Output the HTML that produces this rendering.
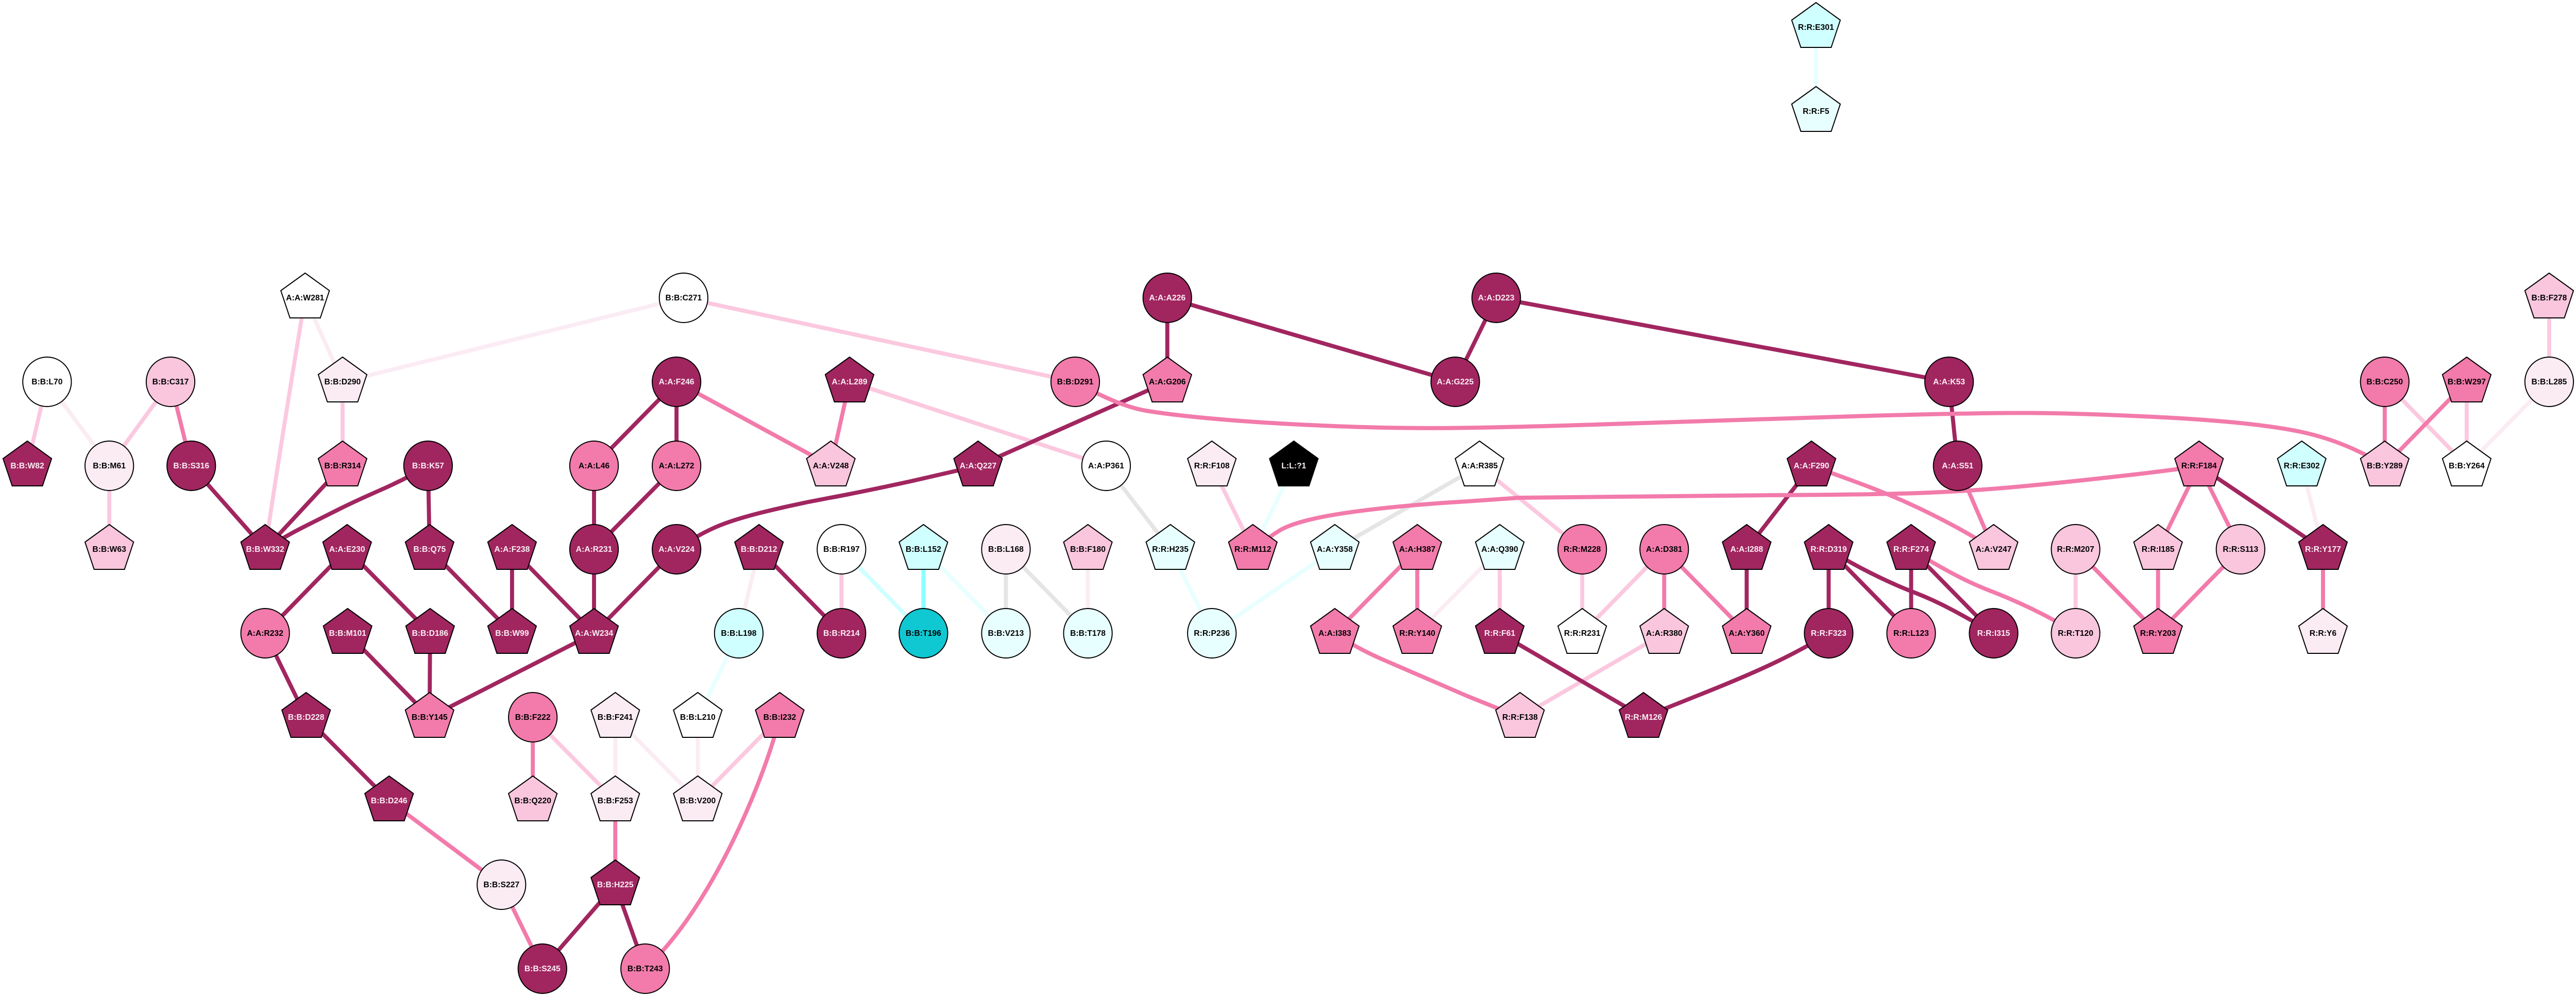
<!DOCTYPE html>
<html><head><meta charset="utf-8"><title>Residue network</title>
<style>
html,body{margin:0;padding:0;background:#fff;width:100%;height:100%;overflow:hidden}
svg{display:block;width:100vw;height:100vh}
text{font-family:"Liberation Sans",Arial,sans-serif;font-weight:bold;font-size:16px;text-anchor:middle;fill:#000}
text.w{fill:#fbeef4}
.e{fill:none;stroke-width:8;stroke-linejoin:round}
.n circle,.n use{stroke:#000;stroke-width:2}
.D{fill:#a12660}.P{fill:#f27bab}.L{fill:#f9c6dd}.V{fill:#fbecf4}.W{fill:#fff}.C{fill:#d0ffff}.U{fill:#e8ffff}.T{fill:#10c8d2}.K{fill:#000}
.sD{stroke:#a12660}.sP{stroke:#f27bab}.sL{stroke:#fbc9df}.sV{stroke:#fbecf4}.sU{stroke:#e8ffff}.sC{stroke:#d0ffff}.sA{stroke:#8cffff}.sG{stroke:#e5e5e5}
</style></head><body>
<svg xmlns="http://www.w3.org/2000/svg" viewBox="0 0 5091 1933" preserveAspectRatio="none">
<defs><polygon id="p" points="0,-48 48,-14 30,39 -30,39 -48,-14"/></defs>
<rect width="5091" height="1933" fill="#fff"/>

<!-- very light / grey / cyan edges -->
<g class="e sU">
<path d="M3589 53V216"/><path d="M1460 1229L1379 1392"/><path d="M1825 1066L1988 1229"/><path d="M2313 1066L2395 1229"/><path d="M2395 1229L2638 1066"/><path d="M2557 904L2476 1066"/>
</g>
<g class="e sC"><path d="M1663 1066L1825 1229"/></g>
<g class="e sA"><path d="M1825 1066V1229"/></g>
<g class="e sG">
<path d="M1988 1066V1229"/><path d="M1988 1066L2150 1229"/><path d="M2186 904L2313 1066"/><path d="M2638 1066L2924 904"/>
</g>
<g class="e sV">
<path d="M93 741L216 904"/><path d="M603 578L677 741"/><path d="M677 741L1351 578"/><path d="M1216 1392V1554"/><path d="M1216 1392L1379 1554"/><path d="M1379 1392V1554"/><path d="M1500 1066L1460 1229"/><path d="M2150 1066V1229"/><path d="M2964 1066L2801 1229"/><path d="M4549 904L4591 1066"/><path d="M5038 741L4875 904"/>
</g>

<!-- light pink edges -->
<g class="e sL">
<path d="M93 741L54 904"/><path d="M337 741L216 904"/><path d="M216 904V1066"/>
<path d="M603 578Q559 835 524 1066"/><path d="M677 741V904"/><path d="M1351 578L2125 741"/>
<path d="M1053 1392L1216 1554"/><path d="M1541 1392L1379 1554"/><path d="M1679 741L2186 904"/><path d="M1663 1066V1229"/>
<path d="M2924 904L3127 1066"/><path d="M2395 904L2476 1066"/><path d="M2964 1066V1229"/><path d="M3127 1066V1229"/><path d="M3289 1066L3127 1229"/>
<path d="M3289 1229L3004 1392"/><path d="M4102 1066V1229"/>
<path d="M4713 741L4875 904"/><path d="M4875 741V904"/><path d="M5038 578V741"/>
</g>

<!-- dark edges -->
<g class="e sD">
<path d="M378 904L524 1066"/><path d="M677 904L524 1066"/>
<path d="M846 904Q803 929 752 951Q701 973 669.5 988.5Q638 1004 599.5 1023Q561 1042 524 1066"/>
<path d="M846 904L849 1066"/><path d="M686 1066L524 1229"/><path d="M686 1066L850 1229"/><path d="M849 1066L1012 1229"/><path d="M1012 1066V1229"/><path d="M1012 1066L1174 1229"/><path d="M1174 1066V1229"/><path d="M1337 1066L1174 1229"/>
<path d="M524 1229L605 1392"/><path d="M687 1229L849 1392"/><path d="M850 1229L849 1392"/><path d="M1174 1229L849 1392"/><path d="M605 1392L769 1554"/>
<path d="M1216 1717L1072 1880"/><path d="M1216 1717L1275 1880"/>
<path d="M1337 741L1174 904"/><path d="M1337 741V904"/><path d="M1174 904V1066"/><path d="M1337 904L1174 1066"/>
<path d="M1933 904L1800 934Q1702 955 1638 966.5Q1574 978 1510 993.5Q1446 1009 1411 1024.5Q1376 1040 1337 1066"/>
<path d="M2307 741L1933 904"/><path d="M2307 578V741"/><path d="M2307 578L2876 741"/><path d="M2957 578L2876 741"/><path d="M2957 578L3852 741"/><path d="M3852 741L3869 904"/>
<path d="M1500 1066L1663 1229"/>
<path d="M3452 1066V1229"/><path d="M3580 904L3452 1066"/><path d="M2964 1229L3248 1392"/>
<path d="M3614 1229Q3572 1255 3518 1281Q3464 1307 3379 1340.5L3248 1392"/>
<path d="M3614 1066V1229"/><path d="M3614 1066L3777 1229"/>
<path d="M3614 1066Q3652 1090 3698 1112.5Q3744 1135 3782.5 1149.5Q3821 1164 3859 1184Q3897 1204 3940 1229"/>
<path d="M3777 1066V1229"/><path d="M3777 1066L3940 1229"/>
<path d="M4346 904L4591 1066"/>
</g>

<!-- pink edges -->
<g class="e sP">
<path d="M337 741L378 904"/><path d="M1337 741L1642 904"/><path d="M1679 741L1642 904"/>
<path d="M769 1554L991 1717"/><path d="M991 1717L1072 1880"/><path d="M1053 1392V1554"/><path d="M1216 1554V1717"/>
<path d="M1541 1392C1515 1500 1410 1759 1275 1880"/>
<path d="M2125 741Q2210 788 2264.5 797Q2319 806 2414.5 814Q2510 822 2637.5 827Q2765 832 2882.5 830.5Q3000 829 3200 822.5Q3400 816 3629.5 809Q3859 802 3979.5 801.5Q4100 801 4275.5 810Q4451 819 4542 837Q4633 855 4713 904"/>
<path d="M2476 1066Q2510 1041 2529 1029.5Q2548 1018 2593 1007.5Q2638 997 2717.5 988Q2797 979 2900 973L3003 966Q3283 963 3500 961Q3719 960 3814.5 956Q3910 952 4005.5 943Q4101 934 4203.5 922.5Q4306 911 4346 904"/>
<path d="M3580 904Q3620 918 3672.5 937Q3725 956 3770 976Q3815 996 3859.5 1019.5Q3904 1043 3940 1066"/>
<path d="M3777 1066Q3815 1090 3856 1111.5Q3897 1133 3935.5 1147.5Q3974 1162 4018.5 1183Q4063 1204 4102 1229"/>
<path d="M2638 1229Q2676 1255 2727 1277.5L2900 1351L3004 1392"/>
<path d="M2801 1066L2638 1229"/><path d="M2801 1066V1229"/><path d="M3289 1066V1229"/><path d="M3289 1066L3452 1229"/>
<path d="M3869 904L3940 1066"/>
<path d="M4102 1066L4265 1229"/><path d="M4265 1066V1229"/><path d="M4428 1066L4265 1229"/><path d="M4346 904L4265 1066"/><path d="M4346 904L4428 1066"/><path d="M4591 1066V1229"/>
<path d="M4713 741V904"/><path d="M4875 741L4713 904"/>
</g>

<!-- circle nodes -->
<g class="n">
<circle class="W" cx="93" cy="741" r="48"/><text x="93" y="746">B:B:L70</text>
<circle class="L" cx="337" cy="741" r="48"/><text x="337" y="746">B:B:C317</text>
<circle class="V" cx="216" cy="904" r="48"/><text x="216" y="909">B:B:M61</text>
<circle class="D" cx="378" cy="904" r="48"/><text class="w" x="378" y="909">B:B:S316</text>
<circle class="D" cx="846" cy="904" r="48"/><text class="w" x="846" y="909">B:B:K57</text>
<circle class="P" cx="1174" cy="904" r="48"/><text x="1174" y="909">A:A:L46</text>
<circle class="P" cx="1337" cy="904" r="48"/><text x="1337" y="909">A:A:L272</text>
<circle class="D" cx="1337" cy="741" r="48"/><text class="w" x="1337" y="746">A:A:F246</text>
<circle class="W" cx="1351" cy="578" r="48"/><text x="1351" y="583">B:B:C271</text>
<circle class="D" cx="1174" cy="1066" r="48"/><text class="w" x="1174" y="1071">A:A:R231</text>
<circle class="D" cx="1337" cy="1066" r="48"/><text class="w" x="1337" y="1071">A:A:V224</text>
<circle class="W" cx="1663" cy="1066" r="48"/><text x="1663" y="1071">B:B:R197</text>
<circle class="V" cx="1988" cy="1066" r="48"/><text x="1988" y="1071">B:B:L168</text>
<circle class="T" cx="1825" cy="1229" r="48"/><text x="1825" y="1234">B:B:T196</text>
<circle class="U" cx="1988" cy="1229" r="48"/><text x="1988" y="1234">B:B:V213</text>
<circle class="C" cx="1460" cy="1229" r="48"/><text x="1460" y="1234">B:B:L198</text>
<circle class="D" cx="1663" cy="1229" r="48"/><text class="w" x="1663" y="1234">B:B:R214</text>
<circle class="P" cx="524" cy="1229" r="48"/><text x="524" y="1234">A:A:R232</text>
<circle class="P" cx="1053" cy="1392" r="48"/><text x="1053" y="1397">B:B:F222</text>
<circle class="V" cx="991" cy="1717" r="48"/><text x="991" y="1722">B:B:S227</text>
<circle class="D" cx="1072" cy="1880" r="48"/><text class="w" x="1072" y="1885">B:B:S245</text>
<circle class="P" cx="1275" cy="1880" r="48"/><text x="1275" y="1885">B:B:T243</text>
<circle class="P" cx="2125" cy="741" r="48"/><text x="2125" y="746">B:B:D291</text>
<circle class="D" cx="2307" cy="578" r="48"/><text class="w" x="2307" y="583">A:A:A226</text>
<circle class="D" cx="2957" cy="578" r="48"/><text class="w" x="2957" y="583">A:A:D223</text>
<circle class="D" cx="2876" cy="741" r="48"/><text class="w" x="2876" y="746">A:A:G225</text>
<circle class="D" cx="3852" cy="741" r="48"/><text class="w" x="3852" y="746">A:A:K53</text>
<circle class="D" cx="3869" cy="904" r="48"/><text class="w" x="3869" y="909">A:A:S51</text>
<circle class="W" cx="2186" cy="904" r="48"/><text x="2186" y="909">A:A:P361</text>
<circle class="U" cx="2150" cy="1229" r="48"/><text x="2150" y="1234">B:B:T178</text>
<circle class="U" cx="2395" cy="1229" r="48"/><text x="2395" y="1234">R:R:P236</text>
<circle class="P" cx="3127" cy="1066" r="48"/><text x="3127" y="1071">R:R:M228</text>
<circle class="P" cx="3289" cy="1066" r="48"/><text x="3289" y="1071">A:A:D381</text>
<circle class="D" cx="3614" cy="1229" r="48"/><text class="w" x="3614" y="1234">R:R:F323</text>
<circle class="P" cx="3777" cy="1229" r="48"/><text x="3777" y="1234">R:R:L123</text>
<circle class="D" cx="3940" cy="1229" r="48"/><text class="w" x="3940" y="1234">R:R:I315</text>
<circle class="L" cx="4102" cy="1229" r="48"/><text x="4102" y="1234">R:R:T120</text>
<circle class="L" cx="4102" cy="1066" r="48"/><text x="4102" y="1071">R:R:M207</text>
<circle class="L" cx="4428" cy="1066" r="48"/><text x="4428" y="1071">R:R:S113</text>
<circle class="P" cx="4713" cy="741" r="48"/><text x="4713" y="746">B:B:C250</text>
<circle class="V" cx="5038" cy="741" r="48"/><text x="5038" y="746">B:B:L285</text>
</g>

<!-- pentagon nodes -->
<g class="n">
<use href="#p" class="C" x="3589" y="53"/><text x="3589" y="58">R:R:E301</text>
<use href="#p" class="U" x="3589" y="216"/><text x="3589" y="221">R:R:F5</text>
<use href="#p" class="W" x="603" y="578"/><text x="603" y="583">A:A:W281</text>
<use href="#p" class="L" x="5038" y="578"/><text x="5038" y="583">B:B:F278</text>
<use href="#p" class="V" x="677" y="741"/><text x="677" y="746">B:B:D290</text>
<use href="#p" class="D" x="1679" y="741"/><text class="w" x="1679" y="746">A:A:L289</text>
<use href="#p" class="P" x="2307" y="741"/><text x="2307" y="746">A:A:G206</text>
<use href="#p" class="P" x="4875" y="741"/><text x="4875" y="746">B:B:W297</text>
<use href="#p" class="D" x="54" y="904"/><text class="w" x="54" y="909">B:B:W82</text>
<use href="#p" class="P" x="677" y="904"/><text x="677" y="909">B:B:R314</text>
<use href="#p" class="L" x="1642" y="904"/><text x="1642" y="909">A:A:V248</text>
<use href="#p" class="D" x="1933" y="904"/><text class="w" x="1933" y="909">A:A:Q227</text>
<use href="#p" class="V" x="2395" y="904"/><text x="2395" y="909">R:R:F108</text>
<use href="#p" class="K" x="2557" y="904"/><text class="w" x="2557" y="909">L:L:?1</text>
<use href="#p" class="W" x="2924" y="904"/><text x="2924" y="909">A:A:R385</text>
<use href="#p" class="D" x="3580" y="904"/><text class="w" x="3580" y="909">A:A:F290</text>
<use href="#p" class="P" x="4346" y="904"/><text x="4346" y="909">R:R:F184</text>
<use href="#p" class="C" x="4549" y="904"/><text x="4549" y="909">R:R:E302</text>
<use href="#p" class="L" x="4713" y="904"/><text x="4713" y="909">B:B:Y289</text>
<use href="#p" class="W" x="4875" y="904"/><text x="4875" y="909">B:B:Y264</text>
<use href="#p" class="L" x="216" y="1066"/><text x="216" y="1071">B:B:W63</text>
<use href="#p" class="D" x="524" y="1066"/><text class="w" x="524" y="1071">B:B:W332</text>
<use href="#p" class="D" x="686" y="1066"/><text class="w" x="686" y="1071">A:A:E230</text>
<use href="#p" class="D" x="849" y="1066"/><text class="w" x="849" y="1071">B:B:Q75</text>
<use href="#p" class="D" x="1012" y="1066"/><text class="w" x="1012" y="1071">A:A:F238</text>
<use href="#p" class="D" x="1500" y="1066"/><text class="w" x="1500" y="1071">B:B:D212</text>
<use href="#p" class="C" x="1825" y="1066"/><text x="1825" y="1071">B:B:L152</text>
<use href="#p" class="L" x="2150" y="1066"/><text x="2150" y="1071">B:B:F180</text>
<use href="#p" class="U" x="2313" y="1066"/><text x="2313" y="1071">R:R:H235</text>
<use href="#p" class="P" x="2476" y="1066"/><text x="2476" y="1071">R:R:M112</text>
<use href="#p" class="U" x="2638" y="1066"/><text x="2638" y="1071">A:A:Y358</text>
<use href="#p" class="P" x="2801" y="1066"/><text x="2801" y="1071">A:A:H387</text>
<use href="#p" class="U" x="2964" y="1066"/><text x="2964" y="1071">A:A:Q390</text>
<use href="#p" class="D" x="3452" y="1066"/><text class="w" x="3452" y="1071">A:A:I288</text>
<use href="#p" class="D" x="3614" y="1066"/><text class="w" x="3614" y="1071">R:R:D319</text>
<use href="#p" class="D" x="3777" y="1066"/><text class="w" x="3777" y="1071">R:R:F274</text>
<use href="#p" class="L" x="3940" y="1066"/><text x="3940" y="1071">A:A:V247</text>
<use href="#p" class="L" x="4265" y="1066"/><text x="4265" y="1071">R:R:I185</text>
<use href="#p" class="D" x="4591" y="1066"/><text class="w" x="4591" y="1071">R:R:Y177</text>
<use href="#p" class="D" x="687" y="1229"/><text class="w" x="687" y="1234">B:B:M101</text>
<use href="#p" class="D" x="850" y="1229"/><text class="w" x="850" y="1234">B:B:D186</text>
<use href="#p" class="D" x="1012" y="1229"/><text class="w" x="1012" y="1234">B:B:W99</text>
<use href="#p" class="D" x="1174" y="1229"/><text class="w" x="1174" y="1234">A:A:W234</text>
<use href="#p" class="P" x="2638" y="1229"/><text x="2638" y="1234">A:A:I383</text>
<use href="#p" class="P" x="2801" y="1229"/><text x="2801" y="1234">R:R:Y140</text>
<use href="#p" class="D" x="2964" y="1229"/><text class="w" x="2964" y="1234">R:R:F61</text>
<use href="#p" class="W" x="3127" y="1229"/><text x="3127" y="1234">R:R:R231</text>
<use href="#p" class="L" x="3289" y="1229"/><text x="3289" y="1234">A:A:R380</text>
<use href="#p" class="P" x="3452" y="1229"/><text x="3452" y="1234">A:A:Y360</text>
<use href="#p" class="P" x="4265" y="1229"/><text x="4265" y="1234">R:R:Y203</text>
<use href="#p" class="V" x="4591" y="1229"/><text x="4591" y="1234">R:R:Y6</text>
<use href="#p" class="D" x="605" y="1392"/><text class="w" x="605" y="1397">B:B:D228</text>
<use href="#p" class="P" x="849" y="1392"/><text x="849" y="1397">B:B:Y145</text>
<use href="#p" class="V" x="1216" y="1392"/><text x="1216" y="1397">B:B:F241</text>
<use href="#p" class="W" x="1379" y="1392"/><text x="1379" y="1397">B:B:L210</text>
<use href="#p" class="P" x="1541" y="1392"/><text x="1541" y="1397">B:B:I232</text>
<use href="#p" class="L" x="3004" y="1392"/><text x="3004" y="1397">R:R:F138</text>
<use href="#p" class="D" x="3248" y="1392"/><text class="w" x="3248" y="1397">R:R:M126</text>
<use href="#p" class="D" x="769" y="1554"/><text class="w" x="769" y="1559">B:B:D246</text>
<use href="#p" class="L" x="1053" y="1554"/><text x="1053" y="1559">B:B:Q220</text>
<use href="#p" class="V" x="1216" y="1554"/><text x="1216" y="1559">B:B:F253</text>
<use href="#p" class="V" x="1379" y="1554"/><text x="1379" y="1559">B:B:V200</text>
<use href="#p" class="D" x="1216" y="1717"/><text class="w" x="1216" y="1722">B:B:H225</text>
</g>
</svg>
</body></html>
